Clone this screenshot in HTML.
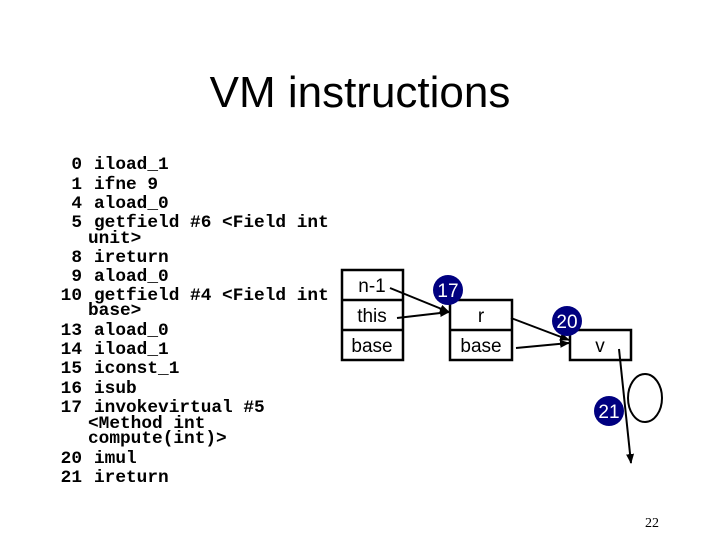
<!DOCTYPE html><html><head><style>
body{margin:0;width:720px;height:540px;background:#fff;position:relative;overflow:hidden}
.t{position:absolute;left:0;width:720px;text-align:center;top:68px;font:44px "Liberation Sans",sans-serif}
.c{position:absolute;font:bold 17.8px "Liberation Mono",monospace;white-space:pre;line-height:18px}
.n{position:absolute;width:38px;text-align:right;left:44px;font:bold 17.8px "Liberation Mono",monospace;line-height:18px}
</style></head><body>
<div class="t">VM instructions</div>
<div class="n" style="top:156px">0</div><div class="c" style="left:94px;top:156px">iload_1</div>
<div class="n" style="top:176px">1</div><div class="c" style="left:94px;top:176px">ifne 9</div>
<div class="n" style="top:195px">4</div><div class="c" style="left:94px;top:195px">aload_0</div>
<div class="n" style="top:214px">5</div><div class="c" style="left:94px;top:214px">getfield #6 &lt;Field int</div>
<div class="c" style="left:88px;top:230px">unit&gt;</div>
<div class="n" style="top:249px">8</div><div class="c" style="left:94px;top:249px">ireturn</div>
<div class="n" style="top:268px">9</div><div class="c" style="left:94px;top:268px">aload_0</div>
<div class="n" style="top:287px">10</div><div class="c" style="left:94px;top:287px">getfield #4 &lt;Field int</div>
<div class="c" style="left:88px;top:302px">base&gt;</div>
<div class="n" style="top:322px">13</div><div class="c" style="left:94px;top:322px">aload_0</div>
<div class="n" style="top:341px">14</div><div class="c" style="left:94px;top:341px">iload_1</div>
<div class="n" style="top:360px">15</div><div class="c" style="left:94px;top:360px">iconst_1</div>
<div class="n" style="top:380px">16</div><div class="c" style="left:94px;top:380px">isub</div>
<div class="n" style="top:399px">17</div><div class="c" style="left:94px;top:399px">invokevirtual #5</div>
<div class="c" style="left:88px;top:415px">&lt;Method int</div>
<div class="c" style="left:88px;top:430px">compute(int)&gt;</div>
<div class="n" style="top:450px">20</div><div class="c" style="left:94px;top:450px">imul</div>
<div class="n" style="top:469px">21</div><div class="c" style="left:94px;top:469px">ireturn</div>
<svg width="720" height="540" style="position:absolute;left:0;top:0" font-family="Liberation Sans,sans-serif">
<defs><marker id="a" markerWidth="10" markerHeight="8" refX="9" refY="4" orient="auto" markerUnits="userSpaceOnUse"><path d="M0,0L10,4L0,8z"/></marker></defs>
<g fill="none" stroke="#000" stroke-width="2.5">
<rect x="342" y="270" width="61" height="90"/><line x1="342" y1="300" x2="403" y2="300"/><line x1="342" y1="330" x2="403" y2="330"/>
<rect x="450" y="300" width="62" height="60"/><line x1="450" y1="330" x2="512" y2="330"/>
<rect x="570" y="330" width="61" height="30"/>
</g>
<g font-size="19" text-anchor="middle">
<text x="372" y="292">n-1</text><text x="372" y="322">this</text><text x="372" y="352">base</text>
<text x="481" y="322">r</text><text x="481" y="352">base</text><text x="600" y="352">v</text>
</g>
<g stroke="#000" stroke-width="2">
<line x1="390" y1="288" x2="449" y2="312" marker-end="url(#a)"/>
<line x1="397" y1="318" x2="449" y2="312" marker-end="url(#a)"/>
<line x1="511" y1="318" x2="569" y2="340" marker-end="url(#a)"/>
<line x1="516" y1="348" x2="569" y2="343" marker-end="url(#a)"/>
<line x1="619" y1="349" x2="631" y2="463" marker-end="url(#a)"/>
</g>
<ellipse cx="645" cy="398" rx="17" ry="24" fill="none" stroke="#000" stroke-width="2"/>
<g fill="#000080"><circle cx="448" cy="290" r="15"/><circle cx="567" cy="321" r="15"/><circle cx="609" cy="411" r="15"/></g>
<g fill="#fff" font-size="19" text-anchor="middle">
<text x="448" y="297">17</text><text x="567" y="328">20</text><text x="609" y="418">21</text></g>
<text x="652" y="527" font-family="Liberation Serif,serif" font-size="14" text-anchor="middle">22</text>
</svg>
</body></html>
